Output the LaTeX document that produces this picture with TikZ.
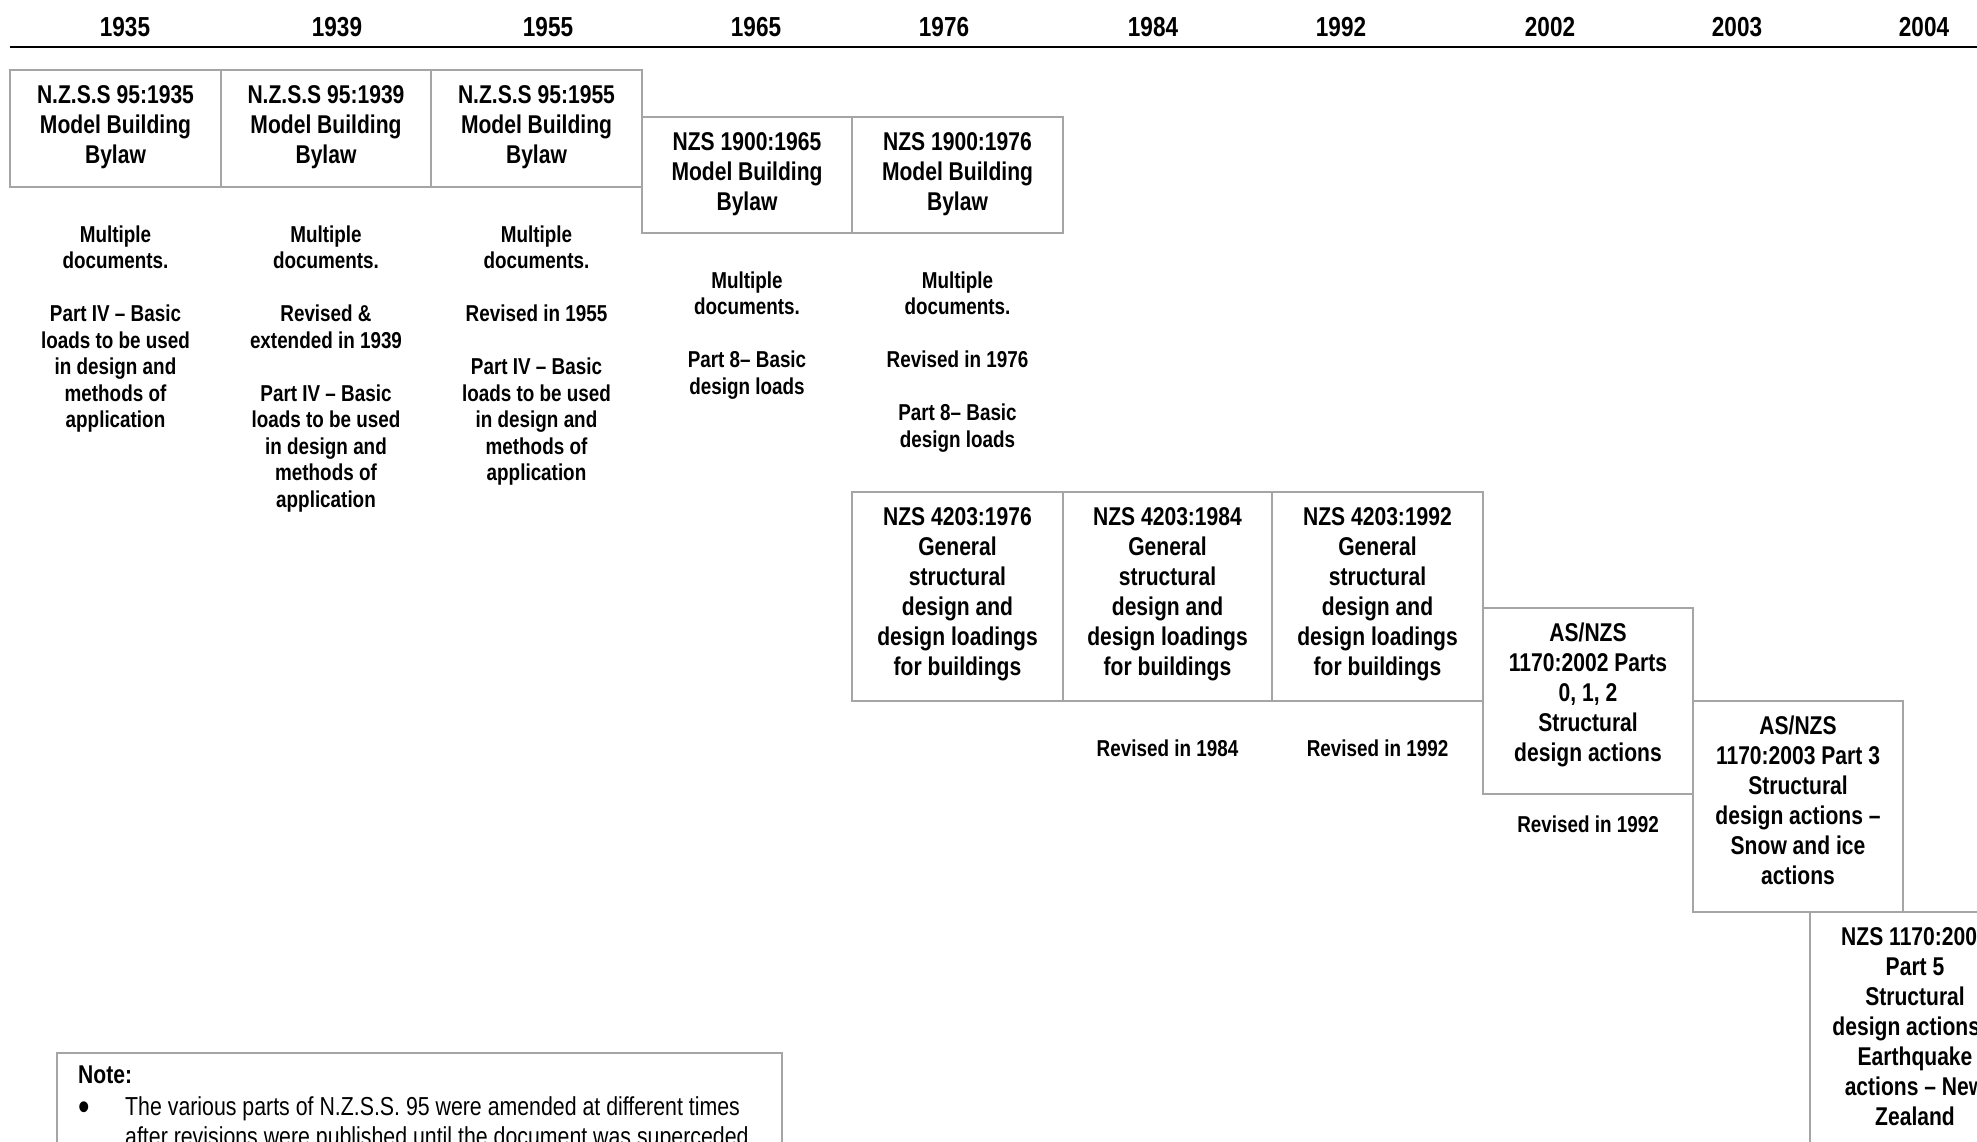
\documentclass[tikz,border=0pt]{standalone}
\usepackage{fontspec}
\setmainfont{Liberation Sans}[FakeStretch=0.82]
\definecolor{boxgray}{RGB}{165,165,165}
\tikzset{
  docbox/.style={draw=boxgray, line width=1.8pt, inner sep=0pt, outer sep=0pt, anchor=north west},
  boxtxt/.style={anchor=north, align=center, inner sep=0pt, font=\bfseries\fontsize{25.7}{30}\selectfont},
  desc/.style={anchor=north, align=center, inner sep=0pt, font=\bfseries\fontsize{23}{26.5}\selectfont},
  year/.style={anchor=base, inner sep=0pt, font=\bfseries\fontsize{27.5}{31}\selectfont},
  notetxt/.style={inner sep=0pt, font=\fontsize{26}{30}\selectfont},
}
\begin{document}
\begin{tikzpicture}[x=1pt,y=-1pt]
\useasboundingbox (0,0) rectangle (1977,1141);
\fill[white] (0,0) rectangle (1977,1141);
\clip (0,0) rectangle (1977,1141);

% timeline
\coordinate (tl0) at (10,47);
\coordinate (tl1) at (1977,47);
\draw[line width=2.4pt] (tl0) -- (tl1);

% years
\node[year] (y1935) at (125,36) {1935};
\node[year] (y1939) at (337,36) {1939};
\node[year] (y1955) at (548,36) {1955};
\node[year] (y1965) at (756,36) {1965};
\node[year] (y1976) at (944,36) {1976};
\node[year] (y1984) at (1153,36) {1984};
\node[year] (y1992) at (1341,36) {1992};
\node[year] (y2002) at (1550,36) {2002};
\node[year] (y2003) at (1737,36) {2003};
\node[year] (y2004) at (1924,36) {2004};

% boxes
\node[docbox, minimum width=211pt, minimum height=117pt] (b1935) at (10,70) {};
\node[docbox, minimum width=210pt, minimum height=117pt] (b1939) at (221,70) {};
\node[docbox, minimum width=211pt, minimum height=117pt] (b1955) at (431,70) {};
\node[docbox, minimum width=210pt, minimum height=116pt] (b1965) at (642,117) {};
\node[docbox, minimum width=211pt, minimum height=116pt] (b1976) at (852,117) {};
\node[docbox, minimum width=211pt, minimum height=209pt] (c1976) at (852,492) {};
\node[docbox, minimum width=209pt, minimum height=209pt] (c1984) at (1063,492) {};
\node[docbox, minimum width=211pt, minimum height=209pt] (c1992) at (1272,492) {};
\node[docbox, minimum width=210pt, minimum height=186pt] (b2002) at (1483,608) {};
\node[docbox, minimum width=210pt, minimum height=211pt] (b2003) at (1693,701) {};
\node[docbox, minimum width=210pt, minimum height=300pt] (b2004) at (1810,912) {};
\node[docbox, minimum width=725pt, minimum height=200pt] (note) at (57,1053) {};

% box texts (first baseline = top + 33)
\node[boxtxt] (t1935) at ([yshift=-12pt]b1935.north) {\strut N.Z.S.S 95:1935\\Model Building\\Bylaw};
\node[boxtxt] (t1939) at ([yshift=-12pt]b1939.north) {\strut N.Z.S.S 95:1939\\Model Building\\Bylaw};
\node[boxtxt] (t1955) at ([yshift=-12pt]b1955.north) {\strut N.Z.S.S 95:1955\\Model Building\\Bylaw};
\node[boxtxt] (t1965) at ([yshift=-12pt]b1965.north) {\strut NZS 1900:1965\\Model Building\\Bylaw};
\node[boxtxt] (t1976) at ([yshift=-12pt]b1976.north) {\strut NZS 1900:1976\\Model Building\\Bylaw};
\node[boxtxt] (u1976) at ([yshift=-12pt]c1976.north) {\strut NZS 4203:1976\\General\\structural\\design and\\design loadings\\for buildings};
\node[boxtxt] (u1984) at ([yshift=-12pt]c1984.north) {\strut NZS 4203:1984\\General\\structural\\design and\\design loadings\\for buildings};
\node[boxtxt] (u1992) at ([yshift=-12pt]c1992.north) {\strut NZS 4203:1992\\General\\structural\\design and\\design loadings\\for buildings};
\node[boxtxt] (t2002) at ([yshift=-12pt]b2002.north) {\strut AS/NZS\\1170:2002 Parts\\0, 1, 2\\Structural\\design actions};
\node[boxtxt] (t2003) at ([yshift=-12pt]b2003.north) {\strut AS/NZS\\1170:2003 Part 3\\Structural\\design actions –\\Snow and ice\\actions};
\node[boxtxt] (t2004) at ([yshift=-12pt]b2004.north) {\strut NZS 1170:2004\\Part 5\\Structural\\design actions –\\Earthquake\\actions – New\\Zealand};

% descriptions (first baseline = bottom + 55)
\node[desc] (d1935) at ([yshift=-36.45pt]b1935.south) {\strut Multiple\\documents.\\[26.5pt]Part IV – Basic\\loads to be used\\in design and\\methods of\\application};
\node[desc] (d1939) at ([yshift=-36.45pt]b1939.south) {\strut Multiple\\documents.\\[26.5pt]Revised \&\\extended in 1939\\[26.5pt]Part IV – Basic\\loads to be used\\in design and\\methods of\\application};
\node[desc] (d1955) at ([yshift=-36.45pt]b1955.south) {\strut Multiple\\documents.\\[26.5pt]Revised in 1955\\[26.5pt]Part IV – Basic\\loads to be used\\in design and\\methods of\\application};
\node[desc] (d1965) at ([yshift=-36.45pt]b1965.south) {\strut Multiple\\documents.\\[26.5pt]Part 8– Basic\\design loads};
\node[desc] (d1976) at ([yshift=-36.45pt]b1976.south) {\strut Multiple\\documents.\\[26.5pt]Revised in 1976\\[26.5pt]Part 8– Basic\\design loads};
\node[desc] (e1984) at ([yshift=-36.45pt]c1984.south) {\strut Revised in 1984};
\node[desc] (e1992) at ([yshift=-36.45pt]c1992.south) {\strut Revised in 1992};
\node[desc] (d2002) at ([yshift=-19.45pt]b2002.south) {\strut Revised in 1992};

% note
\node[notetxt, anchor=base west, font=\bfseries\fontsize{25.7}{30}\selectfont] (notehead) at (78,1083) {Note:};
\node[notetxt, anchor=base west, font=\fontsize{40}{40}\selectfont] (bullet) at (78.5,1120) {•};
\node[notetxt, anchor=north west, align=left] (notebody) at (125,1094) {\strut The various parts of N.Z.S.S. 95 were amended at different times\\after revisions were published until the document was superceded};
\end{tikzpicture}
\end{document}
